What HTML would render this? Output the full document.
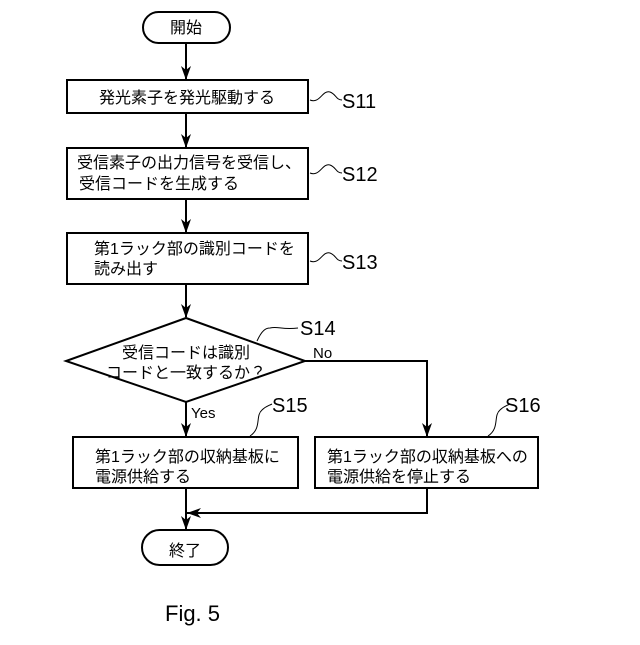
<!DOCTYPE html>
<html><head><meta charset="utf-8"><style>
body{margin:0;background:#fff;}
svg text{font-family:"Liberation Sans","Noto Sans CJK JP",sans-serif;fill:#000;}
</style></head><body>
<svg width="640" height="640" viewBox="0 0 640 640" xmlns="http://www.w3.org/2000/svg">
<g stroke="#000" stroke-width="2" fill="none">
<rect x="143" y="12" width="87" height="31" rx="15.5"/>
<rect x="67" y="80" width="241" height="33"/>
<rect x="67" y="148" width="241" height="51"/>
<rect x="67" y="233" width="241" height="51"/>
<polygon points="186,318 305,361 186,402 66,361"/>
<rect x="73" y="437" width="225" height="51"/>
<rect x="315" y="437" width="223" height="51"/>
<rect x="142" y="530" width="86" height="35" rx="17.5"/>
<line x1="186" y1="43" x2="186" y2="79"/>
<line x1="186" y1="113" x2="186" y2="147"/>
<line x1="186" y1="199" x2="186" y2="232"/>
<line x1="186" y1="284" x2="186" y2="317"/>
<line x1="186" y1="402" x2="186" y2="436"/>
<polyline points="305,361 427,361 427,436"/>
<line x1="186" y1="488" x2="186" y2="529"/>
<polyline points="427,488 427,513 187,513"/>
</g>
<g fill="#000">
<path d="M181,66 L186,80 L191,66 L186,70Z"/>
<path d="M181,134 L186,148 L191,134 L186,138Z"/>
<path d="M181,219 L186,233 L191,219 L186,223Z"/>
<path d="M181,304 L186,318 L191,304 L186,308Z"/>
<path d="M181,423 L186,437 L191,423 L186,427Z"/>
<path d="M422,423 L427,437 L432,423 L427,427Z"/>
<path d="M181,516 L186,530 L191,516 L186,520Z"/>
<path d="M201,508 L187,513 L201,518 L197,513Z"/>
</g>
<g stroke="#000" stroke-width="1" fill="none">
<path d="M310,100 C320,104 322,90 330,92 C336,94 336,100 342,100"/>
<path d="M310,173 C320,177 322,163 330,165 C336,167 336,173 342,173"/>
<path d="M310,261 C320,265 322,251 330,253 C336,255 336,261 342,261"/>
<path d="M257,341 C262,330 266,328 270,328 C278,326 282,330 298,328"/>
<path d="M250,436 C262,428 255,416 262,410 C266,406 268,406 272,404"/>
<path d="M488,436 C500,428 493,416 500,410 C504,406 506,406 510,404"/>
</g>
<g font-size="16">
<text x="186" y="33" text-anchor="middle">開始</text>
<text x="187" y="103" text-anchor="middle">発光素子を発光駆動する</text>
<text x="77" y="168">受信素子の出力信号を受信し、</text>
<text x="79" y="189">受信コードを生成する</text>
<text x="94" y="254">第1ラック部の識別コードを</text>
<text x="94" y="274">読み出す</text>
<text x="186" y="358" text-anchor="middle">受信コードは識別</text>
<text x="186" y="378" text-anchor="middle">コードと一致するか？</text>
<text x="95" y="462">第1ラック部の収納基板に</text>
<text x="95" y="482">電源供給する</text>
<text x="327" y="462">第1ラック部の収納基板への</text>
<text x="327" y="482">電源供給を停止する</text>
<text x="185" y="556" text-anchor="middle">終了</text>
</g>
<g font-size="20">
<text x="342" y="108">S11</text>
<text x="342" y="181">S12</text>
<text x="342" y="269">S13</text>
<text x="300" y="335">S14</text>
<text x="272" y="412">S15</text>
<text x="505" y="412">S16</text>
</g>
<text x="313" y="358" font-size="15">No</text>
<text x="191" y="418" font-size="15">Yes</text>
<text x="165" y="621" font-size="22">Fig. 5</text>
</svg>
</body></html>
